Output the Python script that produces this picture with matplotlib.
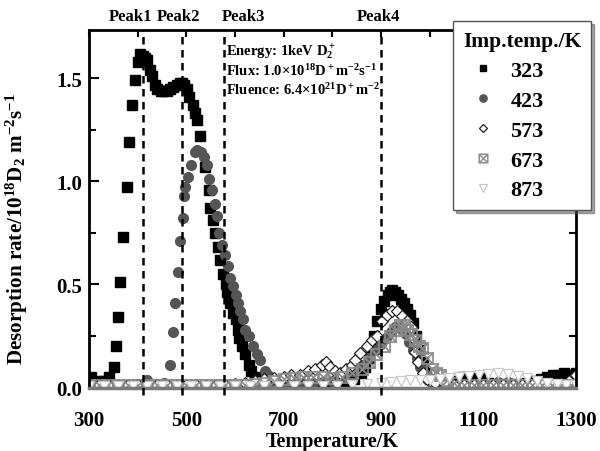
import matplotlib
matplotlib.use("Agg")
import matplotlib.pyplot as plt
from matplotlib.ticker import MultipleLocator

plt.rcParams.update({
    'font.family': 'serif',
    'font.serif': ['Liberation Serif', 'DejaVu Serif'],
    'font.weight': 'bold',
    'mathtext.fontset': 'custom',
    'mathtext.rm': 'Liberation Serif:bold',
    'mathtext.it': 'Liberation Serif:bold',
    'mathtext.bf': 'Liberation Serif:bold',
    'mathtext.default': 'rm',
})

# thermal desorption spectra, one series per implantation temperature
t323 = [305, 318, 330, 341, 351, 355, 360, 364, 370, 378, 382, 388, 394, 400, 405, 410, 415, 420,
        425, 430, 435, 440, 447, 453, 460, 467, 473, 480, 486, 491, 496, 501, 506, 513, 518, 522,
        527, 538, 546, 548, 554, 559, 564, 570, 576, 581, 583, 590, 595, 601, 605, 608, 615, 621,
        628, 632, 640, 650, 665, 685, 710, 740, 770, 800, 825, 845, 858, 866, 874, 880, 885, 892,
        899, 906, 913, 918, 923, 928, 934, 940, 946, 953, 960, 966, 972, 978, 985, 992, 1000, 1015,
        1035, 1055, 1066, 1078, 1090, 1103, 1120, 1140, 1160, 1180, 1200, 1215, 1228, 1240, 1252,
        1264, 1276, 1288, 1300]
r323 = [0.05, 0.03, 0.03, 0.05, 0.10, 0.20, 0.34, 0.51, 0.73, 0.97, 1.19, 1.37, 1.49, 1.58, 1.62,
        1.61, 1.60, 1.59, 1.54, 1.51, 1.47, 1.45, 1.44, 1.44, 1.44, 1.45, 1.46, 1.47, 1.48, 1.48,
        1.47, 1.45, 1.41, 1.37, 1.33, 1.30, 1.22, 1.07, 0.96, 0.87, 0.81, 0.75, 0.68, 0.62, 0.55,
        0.50, 0.46, 0.41, 0.36, 0.33, 0.28, 0.24, 0.20, 0.16, 0.11, 0.08, 0.05, 0.03, 0.02, 0.015,
        0.01, 0.01, 0.01, 0.015, 0.02, 0.04, 0.07, 0.10, 0.14, 0.19, 0.25, 0.32, 0.38, 0.42, 0.45,
        0.46, 0.47, 0.46, 0.45, 0.43, 0.41, 0.38, 0.35, 0.31, 0.25, 0.18, 0.12, 0.07, 0.04, 0.02,
        0.02, 0.03, 0.05, 0.05, 0.05, 0.045, 0.02, 0.015, 0.015, 0.015, 0.02, 0.03, 0.04, 0.05,
        0.06, 0.06, 0.07, 0.06, 0.07]

t423 = [300, 320, 340, 360, 380, 400, 419, 440, 455, 466, 472, 477, 483, 487, 493, 495, 497, 503,
        509, 518, 522, 530, 536, 542, 546, 553, 559, 563, 567, 573, 579, 585, 590, 596, 602, 606,
        610, 616, 620, 629, 637, 645, 651, 661, 668, 680, 700, 720, 740, 760, 780, 800, 820, 840,
        860, 875, 890, 900, 910, 920, 928, 935, 942, 950, 958, 966, 973, 980, 988, 995, 1005, 1020,
        1040, 1060, 1080, 1100, 1120, 1140, 1160, 1180, 1200, 1220, 1240, 1260, 1280, 1300]
r423 = [0.01, 0.01, 0.01, 0.01, 0.01, 0.015, 0.035, 0.015, 0.02, 0.11, 0.27, 0.41, 0.56, 0.71,
        0.82, 0.93, 0.97, 1.02, 1.08, 1.14, 1.15, 1.14, 1.12, 1.08, 1.01, 0.96, 0.89, 0.83, 0.75,
        0.69, 0.64, 0.59, 0.53, 0.49, 0.45, 0.41, 0.37, 0.33, 0.28, 0.25, 0.20, 0.16, 0.13, 0.08,
        0.06, 0.03, 0.02, 0.015, 0.015, 0.02, 0.025, 0.03, 0.05, 0.08, 0.11, 0.14, 0.18, 0.21,
        0.24, 0.27, 0.29, 0.29, 0.28, 0.26, 0.22, 0.18, 0.14, 0.10, 0.07, 0.04, 0.02, 0.015, 0.01,
        0.01, 0.01, 0.015, 0.02, 0.025, 0.025, 0.02, 0.01, 0.01, 0.01, 0.01, 0.01, 0.01]

t573 = [300, 320, 340, 360, 380, 400, 420, 440, 460, 480, 500, 520, 540, 560, 580, 600, 620, 640,
        660, 680, 700, 715, 734, 750, 765, 778, 786, 795, 805, 815, 827, 840, 846, 856, 871, 881,
        891, 902, 912, 922, 932, 942, 953, 961, 966, 969, 975, 985, 995, 1010, 1030, 1050, 1070,
        1090, 1110, 1130, 1150, 1170, 1190, 1210, 1230, 1250, 1270, 1285, 1300]
r573 = [0.01, 0.01, 0.01, 0.01, 0.01, 0.01, 0.01, 0.01, 0.01, 0.01, 0.01, 0.01, 0.01, 0.01, 0.01,
        0.015, 0.02, 0.03, 0.04, 0.045, 0.05, 0.06, 0.06, 0.08, 0.09, 0.11, 0.12, 0.10, 0.08, 0.07,
        0.09, 0.11, 0.13, 0.165, 0.20, 0.23, 0.25, 0.32, 0.35, 0.37, 0.37, 0.345, 0.32, 0.29, 0.24,
        0.17, 0.12, 0.07, 0.04, 0.02, 0.015, 0.01, 0.01, 0.01, 0.01, 0.01, 0.01, 0.01, 0.01, 0.01,
        0.01, 0.01, 0.015, 0.03, 0.06]

t673 = [300, 320, 340, 360, 380, 400, 420, 440, 460, 480, 500, 520, 540, 560, 580, 600, 620, 640,
        660, 680, 700, 720, 740, 760, 780, 800, 820, 840, 860, 875, 890, 905, 918, 928, 938, 946,
        954, 962, 970, 978, 984, 994, 1004, 1012, 1021, 1035, 1050, 1070, 1090, 1110, 1130, 1150,
        1170, 1190, 1210, 1230, 1250, 1270, 1290]
r673 = [0.01, 0.01, 0.01, 0.01, 0.01, 0.01, 0.01, 0.01, 0.01, 0.01, 0.01, 0.01, 0.01, 0.01, 0.01,
        0.01, 0.01, 0.015, 0.02, 0.03, 0.04, 0.045, 0.05, 0.05, 0.05, 0.045, 0.05, 0.07, 0.09,
        0.12, 0.16, 0.20, 0.25, 0.28, 0.30, 0.30, 0.28, 0.26, 0.23, 0.20, 0.19, 0.14, 0.09, 0.07,
        0.06, 0.035, 0.02, 0.01, 0.01, 0.01, 0.01, 0.01, 0.01, 0.01, 0.01, 0.01, 0.01, 0.01, 0.01]

t873 = [300, 330, 360, 390, 420, 450, 480, 510, 540, 570, 600, 630, 660, 690, 720, 750, 780, 810,
        840, 870, 900, 920, 940, 960, 980, 1000, 1020, 1040, 1060, 1080, 1100, 1120, 1140, 1160,
        1180, 1200, 1220, 1240, 1260, 1280, 1300]
r873 = [0.005, 0.005, 0.005, 0.005, 0.005, 0.005, 0.005, 0.005, 0.005, 0.005, 0.005, 0.005, 0.005,
        0.005, 0.005, 0.005, 0.005, 0.005, 0.01, 0.015, 0.02, 0.025, 0.03, 0.035, 0.035, 0.035,
        0.04, 0.045, 0.05, 0.055, 0.06, 0.065, 0.068, 0.065, 0.055, 0.045, 0.03, 0.02, 0.015,
        0.01, 0.01]

peak_pos = [410, 490, 577, 900]
peak_names = ['Peak1', 'Peak2', 'Peak3', 'Peak4']
peak_label_x = [386, 484, 618, 894]
x_ticks = [300, 500, 700, 900, 1100, 1300]

fig = plt.figure(figsize=(6, 4.52), dpi=100)
ax = fig.add_axes([0.1483, 0.1394, 0.8117, 0.792])

ax.plot(t323, r323, ls='none', marker='s', ms=6.5, mfc='k', mec='k', label='323')
ax.plot(t423, r423, ls='none', marker='o', ms=7, mfc='#555555', mec='#555555', label='423')
ax.plot(t573, r573, ls='none', marker='D', ms=6, mfc='white', mec='#222222', mew=0.9, label='573')
ax.plot(t673, r673, ls='none', marker=r'$\boxtimes$', ms=9, mfc='#8a8a8a', mec='#8a8a8a',
        mew=0.4, label='673')
ax.plot(t873, r873, ls='none', marker='v', ms=7, mfc='white', mec='#c8c8c8', mew=0.9, label='873')

for x in peak_pos:
    ax.axvline(x, ymin=-0.02, ymax=1, color='k', lw=1.8, ls=(0, (3, 2.2)), zorder=5, clip_on=False)
for name, x in zip(peak_names, peak_label_x):
    ax.text(x, 1.04, name, transform=ax.get_xaxis_transform(), ha='center', va='center',
            fontsize=12, fontweight='bold')

ax.text(581, 1.63, r'Energy: 1keV D$_2^+$', fontsize=10.5, va='center')
ax.text(581, 1.54, r'Flux: 1.0$\times$10$^{18}$D$^+$m$^{-2}$s$^{-1}$', fontsize=10.5, va='center')
ax.text(581, 1.45, r'Fluence: 6.4$\times$10$^{21}$D$^+$m$^{-2}$', fontsize=10.5, va='center')

ax.set_xlim(300, 1300)
ax.set_ylim(-0.004, 1.735)
ax.set_xticks(x_ticks)
ax.set_xticks([400, 600, 800, 1000, 1200], minor=True)
ax.yaxis.set_major_locator(MultipleLocator(0.5))
ax.yaxis.set_minor_locator(MultipleLocator(0.25))
ax.yaxis.set_major_formatter(lambda v, p: f'{v:.1f}')

ax.tick_params(axis='x', which='both', bottom=False, top=True, direction='in', pad=16,
               labelsize=15, length=5, width=1.5)
ax.tick_params(axis='y', which='both', left=True, right=True, direction='in', pad=5,
               labelsize=15, width=1.5)
ax.tick_params(axis='y', which='major', length=7)
ax.tick_params(axis='y', which='minor', length=5)

for side in ['left', 'top', 'right']:
    ax.spines[side].set_linewidth(2)
    ax.spines[side].set_color('k')
ax.spines['bottom'].set_linewidth(2.5)
ax.spines['bottom'].set_color('#7a7a7a')

ax.set_xlabel('Temperature/K', fontsize=14.5, fontweight='bold')
ax.xaxis.set_label_coords(0.5, -0.121)
ax.set_ylabel(r'Desorption rate/10$^{18}$D$_2$ m$^{-2}$s$^{-1}$', fontsize=15.2,
              fontweight='bold')
ax.yaxis.set_label_coords(-0.121, 0.447)

leg = ax.legend(title='Imp.temp./K', loc='upper left', bbox_to_anchor=(453 / 600, 1 - 22 / 452),
                bbox_transform=fig.transFigure, prop={'size': 16, 'weight': 'bold'},
                title_fontproperties={'size': 15.5, 'weight': 'bold'}, alignment='left',
                handlelength=1.8, handletextpad=0.34, labelspacing=0.42, borderpad=0.45,
                borderaxespad=0, markerscale=0.75, fancybox=False, shadow=True, framealpha=1)
leg.get_frame().set_edgecolor('#555555')
leg.get_frame().set_linewidth(1)
leg.set_zorder(10)

fig.savefig('out.png', dpi=100)
